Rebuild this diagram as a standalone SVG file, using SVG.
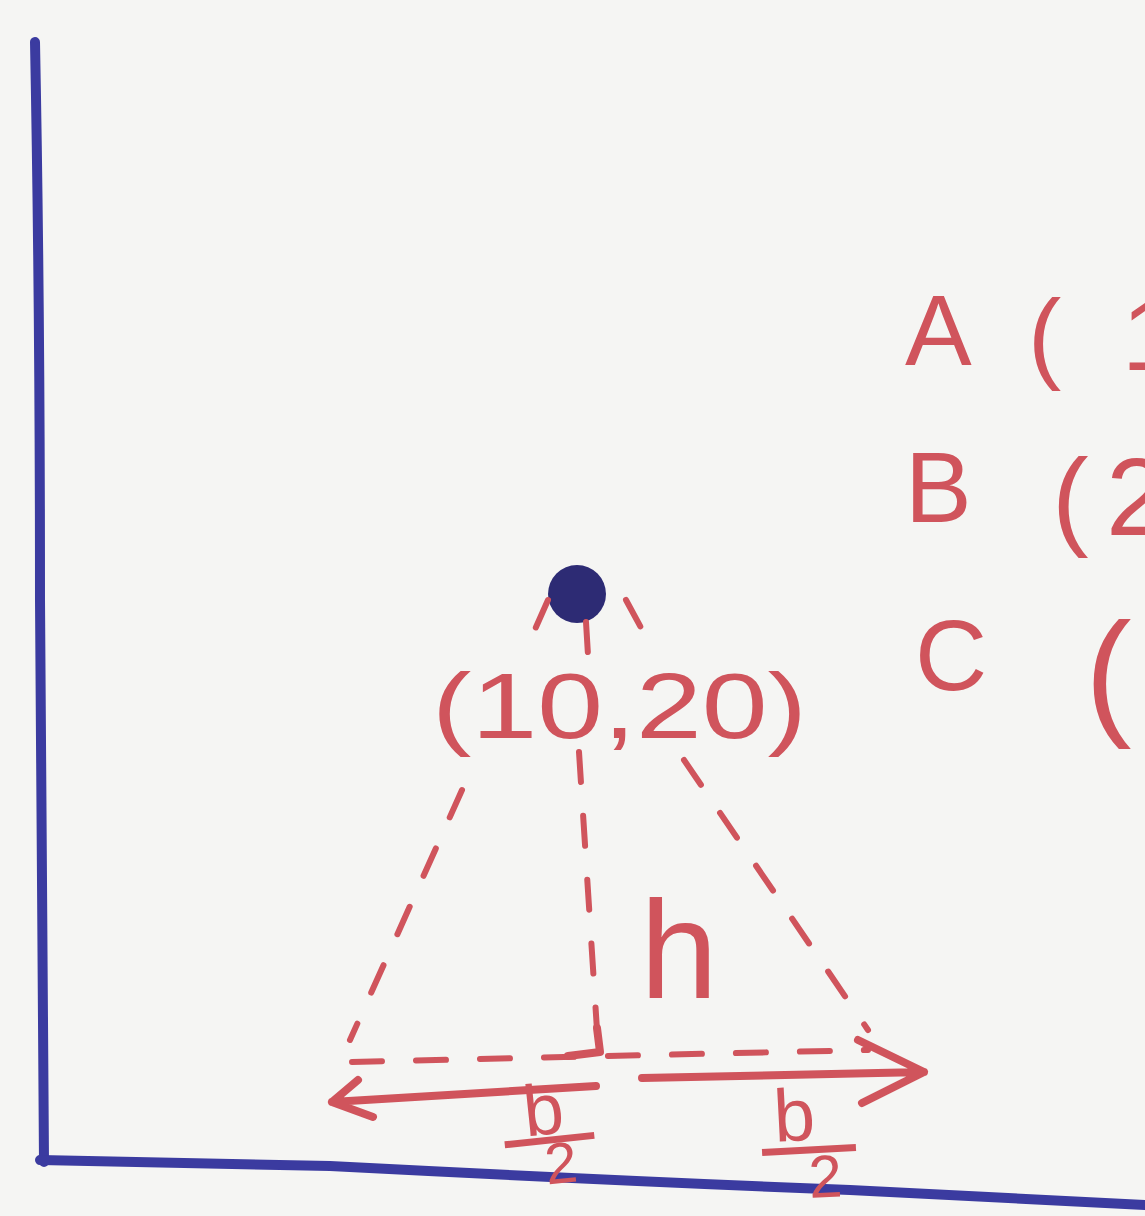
<svg xmlns="http://www.w3.org/2000/svg" width="1145" height="1216" viewBox="0 0 1145 1216">
<defs>
<style>
.axis{fill:none;stroke:#3b3ba0;stroke-width:10;stroke-linecap:round;stroke-linejoin:round}
.dash{fill:none;stroke:#d0545c;stroke-width:6;stroke-linecap:round;stroke-dasharray:30 34}
.solid{fill:none;stroke:#d0545c;stroke-width:8;stroke-linecap:round;stroke-linejoin:round}
.lbl{font-family:"Liberation Sans","DejaVu Sans",sans-serif;fill:#d0545c}
</style>
</defs>
<rect width="1145" height="1216" fill="#f5f5f3"/>
<g id="axes">
<path class="axis" d="M35,42 Q40,300 40,600 Q42,900 44,1162"/>
<path class="axis" d="M40,1160 L330,1166 Q600,1180 850,1190 L1145,1205"/>
</g>
<g id="point">
<circle cx="577" cy="594" r="29" fill="#2d2b74"/>
</g>
<g id="connectors">
<path class="dash" d="M548,600 L528,645"/>
<path class="dash" d="M462,790 L350,1040"/>
<path class="dash" d="M586,622 L588,655"/>
<path class="dash" d="M579,752 L597,1030"/>
<path class="dash" d="M626,600 L645,635"/>
<path class="dash" d="M684,760 L868,1030"/>
<path class="dash" d="M352,1062 L868,1050"/>
<path class="solid" d="M597,1028 L600,1052 L568,1056" stroke-width="6"/>
<path class="solid" d="M596,1086 L332,1102 M358,1080 L332,1102 L373,1117"/>
<path class="solid" d="M642,1078 L924,1072 M858,1040 L924,1072 L862,1103"/>
</g>
<g id="label-point">
<text class="lbl" x="432" y="738" font-size="92" textLength="375" lengthAdjust="spacingAndGlyphs">(10,20)</text>
</g>
<g id="label-h">
<text class="lbl" x="640" y="998" font-size="140">h</text>
</g>
<g id="label-b2-left" transform="rotate(-6 550 1135)">
<text class="lbl" x="546" y="1134" font-size="72" text-anchor="middle">b</text>
<line x1="504" y1="1140" x2="594" y2="1140" stroke="#d0545c" stroke-width="7"/>
<text class="lbl" x="558" y="1184" font-size="58" text-anchor="middle">2</text>
</g>
<g id="label-b2-right" transform="rotate(-3 808 1150)">
<text class="lbl" x="796" y="1140" font-size="74" text-anchor="middle">b</text>
<line x1="762" y1="1150" x2="856" y2="1150" stroke="#d0545c" stroke-width="7"/>
<text class="lbl" x="824" y="1198" font-size="60" text-anchor="middle">2</text>
</g>
<g id="label-A">
<text class="lbl" x="905" y="365" font-size="100">A</text>
<text class="lbl" y="370" font-size="100"><tspan x="1028">(</tspan><tspan x="1122">1</tspan></text>
</g>
<g id="label-B">
<text class="lbl" x="905" y="522" font-size="100">B</text>
<text class="lbl" y="535" font-size="110"><tspan x="1052">(</tspan><tspan x="1106">2</tspan></text>
</g>
<g id="label-C">
<text class="lbl" x="915" y="690" font-size="100">C</text>
<text class="lbl" x="1085" y="720" font-size="140">(</text>
</g>
</svg>
